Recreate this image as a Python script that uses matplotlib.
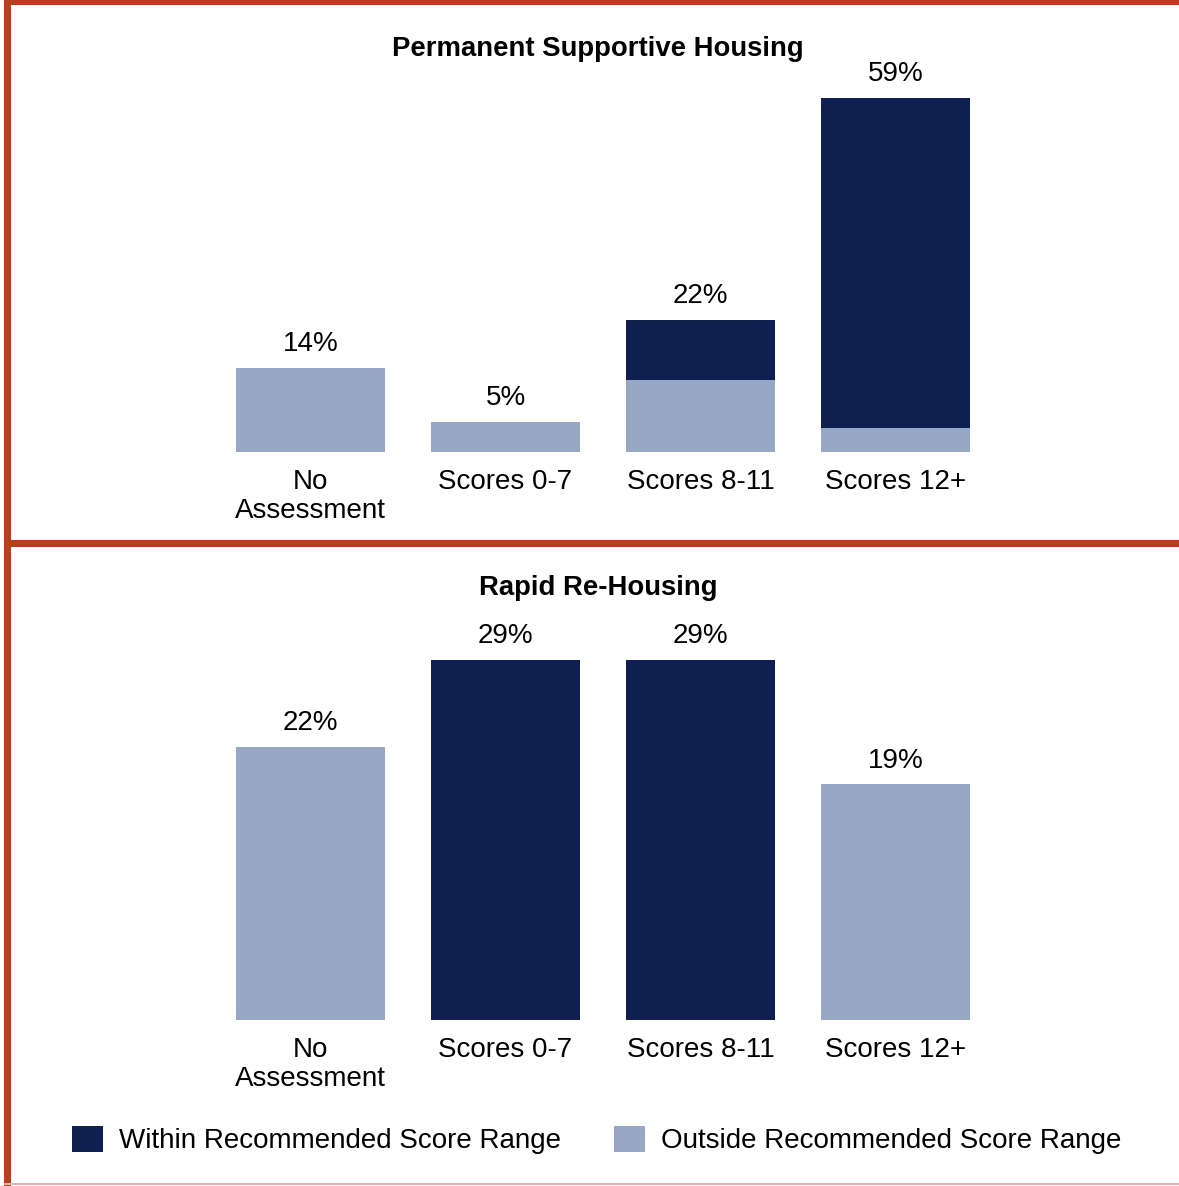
import numpy as np
import matplotlib.pyplot as plt
from matplotlib.patches import Patch, Rectangle

plt.rcParams['font.family'] = ['Liberation Sans', 'DejaVu Sans']

# dane
categories = ['No\nAssessment', 'Scores 0-7', 'Scores 8-11', 'Scores 12+']
psh_total = [14, 5, 22, 59]
psh_within = [0, 0, 10, 55]
psh_outside = [14, 5, 12, 4]
rrh_total = [22, 29, 29, 19]
rrh_within = [0, 29, 29, 0]
rrh_outside = [22, 0, 0, 19]

NAVY = '#0f1f50'
LIGHT = '#97a8c4'
ORANGE = '#b5401e'

W, H = 1179, 1186
fig = plt.figure(figsize=(W / 100, H / 100), dpi=100)
fig.patch.set_facecolor('white')

def px(x, y, w, h):
    # prostokat w pikselach (od gory) -> wspolrzedne figury
    return [x / W, 1 - (y + h) / H, w / W, h / H]

def panel(rect, title, title_y, outside, within, total, ymax):
    ax = fig.add_axes(rect)
    x = np.arange(len(categories))
    ax.bar(x, outside, width=0.76, color=LIGHT)
    ax.bar(x, within, width=0.76, bottom=outside, color=NAVY)
    for xi, t in zip(x, total):
        ax.annotate(f'{t}%', (xi, t), xytext=(0, 17), textcoords='offset points',
                    ha='center', va='center', fontsize=20)
    ax.set_xlim(-0.5, 3.5)
    ax.set_ylim(0, ymax)
    ax.set_xticks(x)
    ax.set_xticklabels(categories, fontsize=20, linespacing=1.15)
    ax.tick_params(axis='x', length=0, pad=12)
    ax.set_yticks([])
    for s in ax.spines.values():
        s.set_visible(False)
    fig.text(0.507, 1 - title_y / H, title, ha='center', va='center',
             fontsize=19.8, fontweight='bold')
    return ax

panel(px(213, 98, 780, 354), 'Permanent Supportive Housing', 49,
      psh_outside, psh_within, psh_total, 59)
panel(px(213, 660, 780, 360), 'Rapid Re-Housing', 588,
      rrh_outside, rrh_within, rrh_total, 29)

# ramki
for r in [px(4, 0, W - 4, 5), px(4, 0, 7, H), px(4, 540, W - 4, 7)]:
    fig.patches.append(Rectangle((r[0], r[1]), r[2], r[3], transform=fig.transFigure,
                                 facecolor=ORANGE, edgecolor='none'))
r = px(4, 1183, W - 4, 2)
fig.patches.append(Rectangle((r[0], r[1]), r[2], r[3], transform=fig.transFigure,
                             facecolor='#e2b4a4', edgecolor='none'))

handles = [Patch(facecolor=NAVY, label='Within Recommended Score Range'),
           Patch(facecolor=LIGHT, label='Outside Recommended Score Range')]
fig.legend(handles=handles, loc='center', bbox_to_anchor=(597 / W, 1 - 1140 / H),
           ncol=2, frameon=False, fontsize=20, handlelength=1.1, handleheight=1.1,
           handletextpad=0.6, columnspacing=1.9)

fig.savefig('out.png', dpi=100)
